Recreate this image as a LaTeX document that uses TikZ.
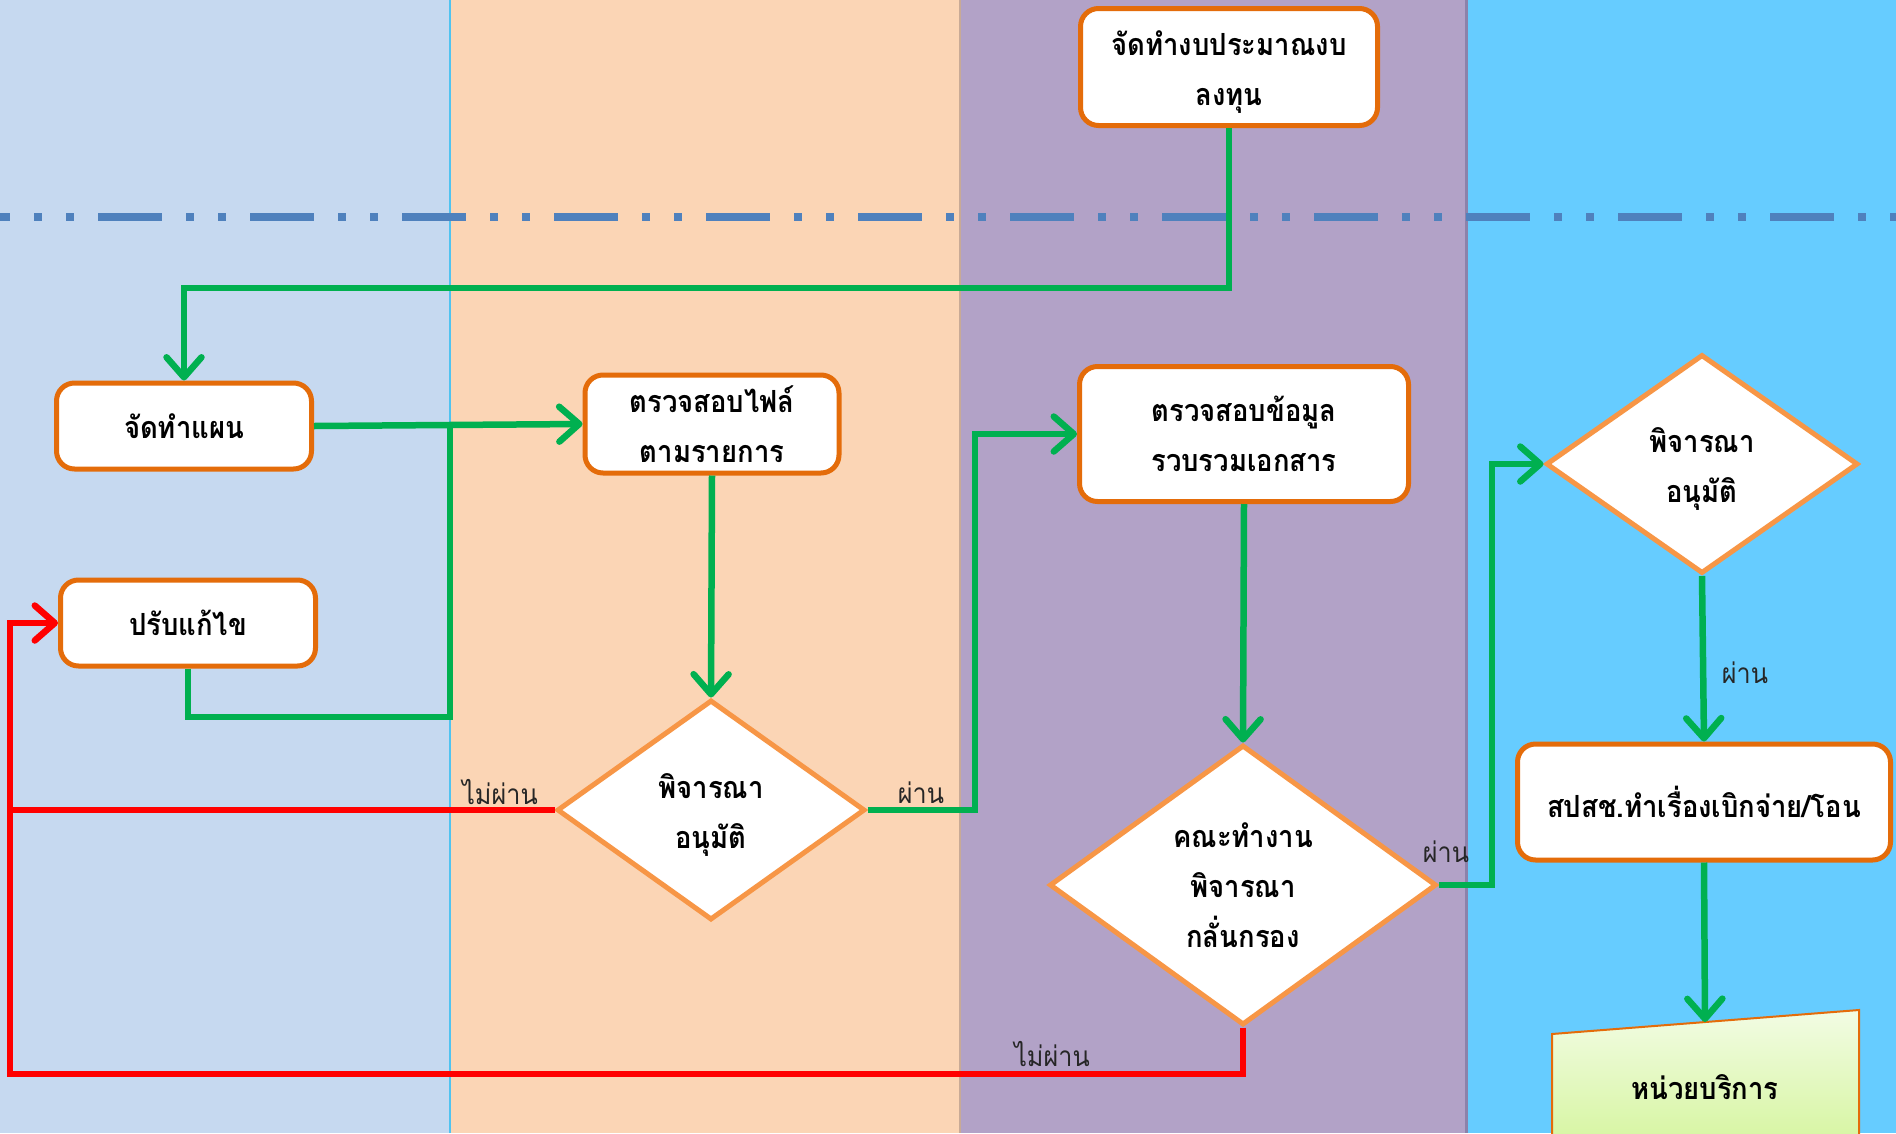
\documentclass[tikz,border=0pt]{standalone}
\usepackage{fontspec}
\newfontfamily\thaifont[Script=Thai]{Loma}
\newfontfamily\thainarrow[Script=Thai,FakeStretch=0.9]{Loma}
\usetikzlibrary{arrows.meta,shapes.geometric}
\definecolor{laneA}{RGB}{198,217,240}
\definecolor{laneB}{RGB}{251,213,181}
\definecolor{laneC}{RGB}{178,162,199}
\definecolor{laneD}{RGB}{102,204,255}
\definecolor{boxorange}{RGB}{228,108,10}
\definecolor{diaorange}{RGB}{247,150,70}
\definecolor{flowgreen}{RGB}{0,176,80}
\definecolor{flowred}{RGB}{255,0,0}
\definecolor{dashblue}{RGB}{79,129,189}
\definecolor{svctop}{RGB}{242,252,228}
\definecolor{svcbot}{RGB}{214,245,160}
\newcommand{\lowerstrut}{\rule{0pt}{35pt}}
\tikzset{
  nodefont/.style={font=\thainarrow\bfseries\fontsize{30.5}{50}\selectfont},
  procbox/.style={draw=boxorange, line width=5pt, fill=white, rounded corners=18pt,
    align=center, inner sep=0pt, nodefont},
  decision/.style={diamond, draw=diaorange, line width=5pt, fill=white, align=center,
    inner sep=0pt, nodefont},
  flow/.style={draw=flowgreen, line width=6.5pt},
  noflow/.style={draw=flowred, line width=6.5pt},
  flowarrow/.style={-{Straight Barb[length=20pt,width=35pt,round]}},
  lbl/.style={font=\thainarrow\fontsize{28}{30}\selectfont, inner sep=0pt, text=black!85},
}
\begin{document}
\begin{tikzpicture}[x=1pt,y=-1pt]
\useasboundingbox (0,0) rectangle (1896,1133);
% lanes
\fill[laneA] (0,0) rectangle (450,1133);
\fill[laneB] (450,0) rectangle (959,1133);
\fill[laneC] (959,0) rectangle (1465,1133);
\fill[laneD] (1465,0) rectangle (1896,1133);
\draw[draw={rgb,255:red,80;green,195;blue,240}, line width=2pt] (449.5,0) -- (449.5,1133);
\draw[draw={rgb,255:red,200;green,170;blue,150}, line width=2pt] (960,0) -- (960,1133);
\draw[draw={rgb,255:red,140;green,130;blue,170}, line width=3pt] (1466,0) -- (1466,1133);
% dash-dot-dot separator
\draw[dashblue, line width=8pt, dash pattern=on 64pt off 24pt on 8pt off 24pt on 8pt off 24pt, dash phase=54pt]
  (0,217) -- (1896,217);

% nodes
\node[procbox, minimum width=297pt, minimum height=117pt] (n1) at (1229,67) {\lowerstrut จัดทำงบประมาณงบ\\ลงทุน};
\node[procbox, minimum width=255pt, minimum height=86pt] (n2) at (184,426) {จัดทำแผน};
\node[procbox, minimum width=255pt, minimum height=86pt] (n3) at (188,623) {ปรับแก้ไข};
\node[procbox, minimum width=254pt, minimum height=98pt] (n4) at (712,424) {ตรวจสอบไฟล์\\ตามรายการ};
\node[decision, minimum width=308pt, minimum height=220pt] (d5) at (711,810) {\lowerstrut พิจารณา\\อนุมัติ};
\node[procbox, minimum width=329pt, minimum height=135pt] (n6) at (1244,434) {ตรวจสอบข้อมูล\\รวบรวมเอกสาร};
\node[decision, minimum width=387pt, minimum height=280pt] (d7) at (1243,885) {คณะทำงาน\\พิจารณา\\กลั่นกรอง};
\node[decision, minimum width=312pt, minimum height=219pt] (d8) at (1702,464) {\lowerstrut พิจารณา\\อนุมัติ};
\node[procbox, minimum width=373pt, minimum height=116pt] (n9) at (1704,802) {สปสช.ทำเรื่องเบิกจ่าย/โอน};
% manual input shape
\path[top color=svctop, bottom color=svcbot, draw=boxorange, line width=2pt]
  (1552,1034) -- (1859,1010) -- (1859,1145) -- (1552,1145) -- cycle;
\node[nodefont, inner sep=0pt] (n10) at (1705,1087) {หน่วยบริการ};
\coordinate (n10top) at (1705,1022);

% connectors
\coordinate (j1) at (450,425);
\coordinate (rl) at (10,810);
\draw[flow, flowarrow] (n1.south) -- ++(0,160) -| (n2.north);
\draw[flow, flowarrow] (n2.east) -- (n4.west);
\draw[flow] (n3.south) |- (450,717) -- (j1);
\draw[flow, flowarrow] (n4.south) -- (d5.north);
\draw[noflow, flowarrow] (d5.west) -- (rl) |- (n3.west);
\draw[flow, flowarrow] (d5.east) -- (975,810) |- (n6.west);
\draw[flow, flowarrow] (n6.south) -- (d7.north);
\draw[noflow] (d7.south) |- (10,1074) -- (rl);
\draw[flow, flowarrow] (d7.east) -- (1492,885) |- (d8.west);
\draw[flow, flowarrow] (d8.south) -- (n9.north);
\draw[flow, flowarrow] (n9.south) -- (n10top);

% labels
\node[lbl] (l1) at (500,792) {ไม่ผ่าน};
\node[lbl] (l2) at (921,793) {ผ่าน};
\node[lbl] (l3) at (1052,1054) {ไม่ผ่าน};
\node[lbl] (l4) at (1446,852) {ผ่าน};
\node[lbl] (l5) at (1745,673) {ผ่าน};
\end{tikzpicture}
\end{document}
